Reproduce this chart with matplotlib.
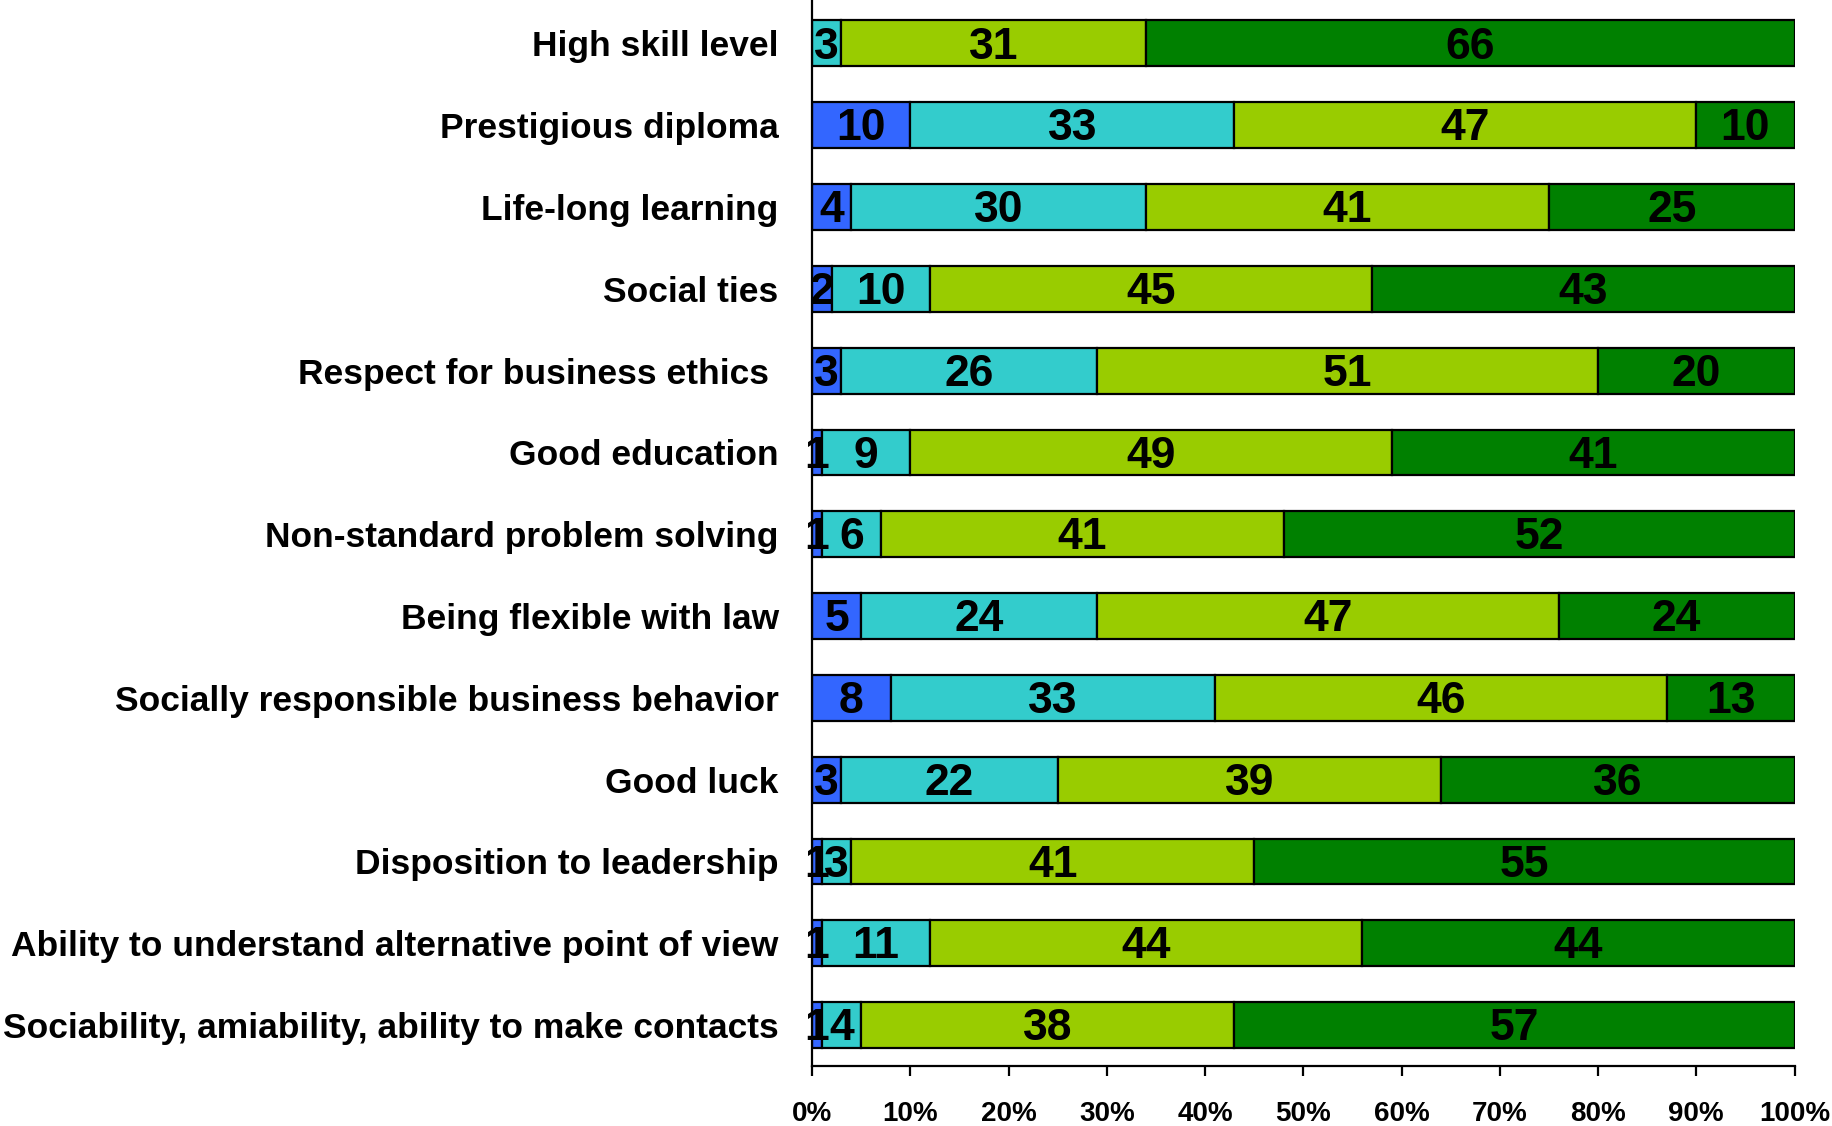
import numpy as np
import matplotlib.pyplot as plt

categories = [
    "High skill level",
    "Prestigious diploma",
    "Life-long learning",
    "Social ties",
    "Respect for business ethics ",
    "Good education",
    "Non-standard problem solving",
    "Being flexible with law",
    "Socially responsible business behavior",
    "Good luck",
    "Disposition to leadership",
    "Ability to understand alternative point of view",
    "Sociability, amiability, ability to make contacts",
]

s1 = [0, 10, 4, 2, 3, 1, 1, 5, 8, 3, 1, 1, 1]
s2 = [3, 33, 30, 10, 26, 9, 6, 24, 33, 22, 3, 11, 4]
s3 = [31, 47, 41, 45, 51, 49, 41, 47, 46, 39, 41, 44, 38]
s4 = [66, 10, 25, 43, 20, 41, 52, 24, 13, 36, 55, 44, 57]

colors = ["#3366FF", "#33CCCC", "#99CC00", "#008000"]
xticks = [0, 10, 20, 30, 40, 50, 60, 70, 80, 90, 100]

font = ["Liberation Sans", "DejaVu Sans"]

fig = plt.figure(figsize=(18.33, 11.26), dpi=100)
ax = fig.add_axes([0.443, 0.0533, 0.536, 0.9467])

y = np.arange(len(categories))
left = np.zeros(len(categories))
for vals, c in zip([s1, s2, s3, s4], colors):
    vals = np.array(vals, dtype=float)
    ax.barh(y, vals, left=left, height=0.56, color=c, edgecolor="black", linewidth=1.6)
    for yi, l, v in zip(y, left, vals):
        if v > 0:
            # small downward nudge so the digits sit in the middle of the bar
            ax.text(l + v / 2, yi + 0.045, "%d" % v, ha="center", va="center",
                    fontsize=32, fontweight="bold", family=font, color="black")
    left += vals

ax.set_xlim(0, 100)
ax.set_ylim(12.5, -0.53)
ax.set_yticks(y)
ax.set_yticklabels(categories, fontsize=25.5, fontweight="bold", family=font)
ax.set_xticks(xticks)
ax.set_xticklabels(["%d%%" % t for t in xticks], fontsize=20, fontweight="bold", family=font)
ax.tick_params(axis="y", length=0, pad=24)
ax.tick_params(axis="x", length=7, width=1.6, pad=18, direction="out")
for s in ["top", "right"]:
    ax.spines[s].set_visible(False)
for s in ["left", "bottom"]:
    ax.spines[s].set_linewidth(1.6)

fig.savefig("out.png", dpi=100)
